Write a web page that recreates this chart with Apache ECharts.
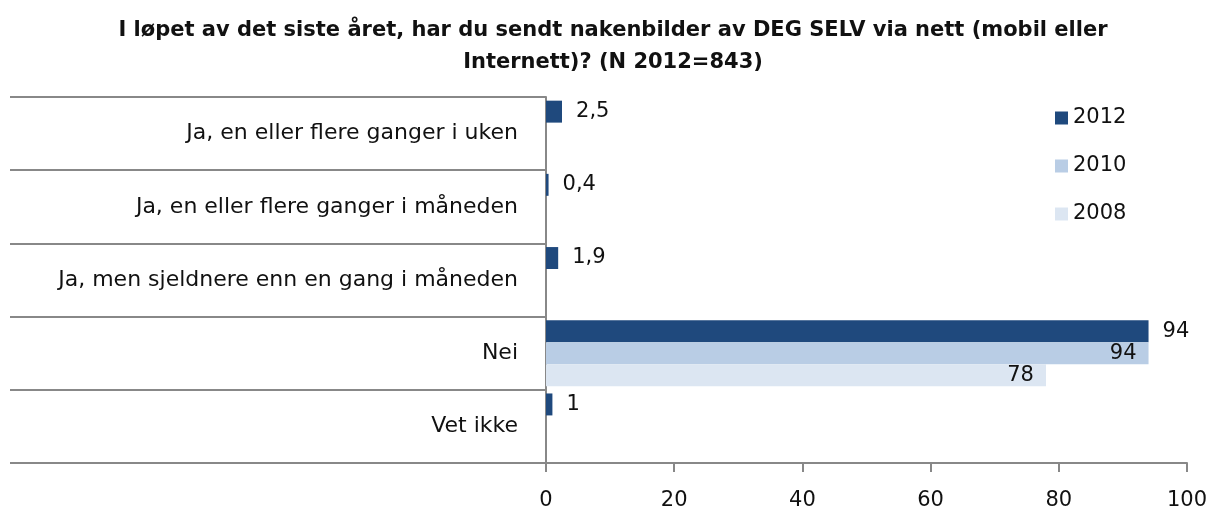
<!DOCTYPE html>
<html>
<head>
<meta charset="utf-8">
<script src="https://cdn.jsdelivr.net/npm/echarts@6/dist/echarts.min.js"></script>
<style>
  html, body { margin: 0; padding: 0; background: #fff; }
  #chart { width: 1226px; height: 511px; }
</style>
</head>
<body>
<div id="chart"></div>
<script>
// Answer categories, top to bottom
const categories = [
  'Ja, en eller flere ganger i uken',
  'Ja, en eller flere ganger i måneden',
  'Ja, men sjeldnere enn en gang i måneden',
  'Nei',
  'Vet ikke'
];
// Percent per survey year (null = not reported)
const values2012 = [2.5, 0.4, 1.9, 94, 1];
const values2010 = [null, null, null, 94, null];
const values2008 = [null, null, null, 78, null];
const xTicks = [0, 20, 40, 60, 80, 100];

const FONT = '"DejaVu Sans", "Liberation Sans", sans-serif';
const INK = '#111';
const fmt = p => String(p.value).replace('.', ',');

const chart = echarts.init(document.getElementById('chart'));
chart.setOption({
  animation: false,
  title: {
    text: 'I løpet av det siste året, har du sendt nakenbilder av DEG SELV via nett (mobil eller\nInternett)? (N 2012=843)',
    left: 'center',
    top: 10,
    textStyle: { fontFamily: FONT, fontSize: 21, fontWeight: 'bold', color: INK, lineHeight: 32 }
  },
  legend: {
    orient: 'vertical',
    left: 1050,
    top: 101,
    itemWidth: 13,
    itemHeight: 13,
    itemGap: 24,
    icon: 'rect',
    textStyle: { fontFamily: FONT, fontSize: 21, color: INK, lineHeight: 24 },
    data: ['2012', '2010', '2008']
  },
  grid: { left: 546, right: 39, top: 97, bottom: 46, containLabel: false },
  xAxis: {
    type: 'value',
    min: xTicks[0],
    max: xTicks[xTicks.length - 1],
    interval: 20,
    splitLine: { show: false },
    axisLine: { show: true, lineStyle: { color: '#888', width: 2 } },
    axisTick: { show: true, length: 9, lineStyle: { color: '#888', width: 2 } },
    axisLabel: { fontFamily: FONT, fontSize: 21, color: INK, margin: 27 }
  },
  yAxis: {
    type: 'category',
    inverse: true,
    data: categories,
    axisLine: { show: true, lineStyle: { color: '#888', width: 2 } },
    axisTick: { show: true, length: 536, lineStyle: { color: '#888', width: 2 } },
    axisLabel: { fontFamily: FONT, fontSize: 22, color: INK, margin: 28 }
  },
  series: [
    {
      name: '2012', type: 'bar', data: values2012,
      barGap: '0%', barCategoryGap: '10%',
      itemStyle: { color: '#1F497D' },
      label: { show: true, position: 'right', distance: 14, formatter: fmt,
               fontFamily: FONT, fontSize: 21, color: INK }
    },
    {
      name: '2010', type: 'bar', data: values2010,
      itemStyle: { color: '#B9CDE5' },
      label: { show: true, position: 'insideRight', distance: 12, formatter: fmt,
               fontFamily: FONT, fontSize: 21, color: INK }
    },
    {
      name: '2008', type: 'bar', data: values2008,
      itemStyle: { color: '#DCE6F2' },
      label: { show: true, position: 'insideRight', distance: 12, formatter: fmt,
               fontFamily: FONT, fontSize: 21, color: INK }
    }
  ]
});
</script>
</body>
</html>
